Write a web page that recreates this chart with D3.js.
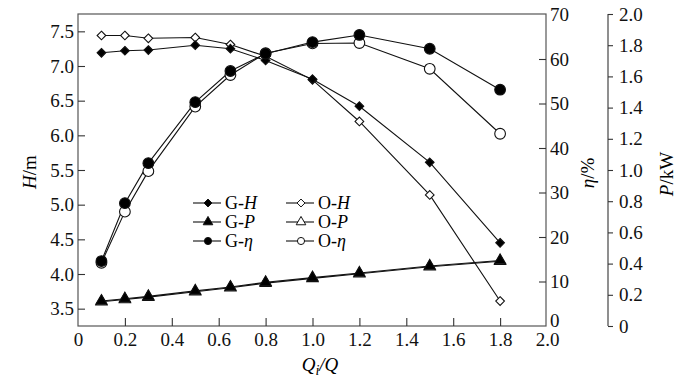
<!DOCTYPE html>
<html><head><meta charset="utf-8">
<script src="https://cdn.jsdelivr.net/npm/d3@7"></script>
<style>
body{margin:0;background:#fff;}
svg{display:block;font-family:"Liberation Serif",serif;}
</style></head>
<body><svg id="c" width="692" height="389"></svg>
<script>
const flow = [0.1, 0.2, 0.3, 0.5, 0.65, 0.8, 1.0, 1.2, 1.5, 1.8];
const gH = [7.19, 7.22, 7.23, 7.30, 7.25, 7.08, 6.81, 6.42, 5.61, 4.45];
const oH = [7.44, 7.44, 7.40, 7.41, 7.31, 7.14, 6.80, 6.20, 5.14, 3.61];
const gEta = [14.6, 27.6, 36.6, 50.3, 57.3, 61.2, 63.8, 65.4, 62.3, 53.1];
const oEta = [14.2, 25.7, 34.8, 49.3, 56.4, 61.3, 63.5, 63.6, 57.8, 43.2];
const gP = [0.16, 0.175, 0.19, 0.225, 0.25, 0.28, 0.31, 0.34, 0.385, 0.42];
const oP = [0.155, 0.17, 0.185, 0.22, 0.245, 0.275, 0.305, 0.335, 0.38, 0.415];
const xTicks = [0, 0.2, 0.4, 0.6, 0.8, 1.0, 1.2, 1.4, 1.6, 1.8, 2.0];
const hTicks = [3.5, 4.0, 4.5, 5.0, 5.5, 6.0, 6.5, 7.0, 7.5];
const etaTicks = [0, 10, 20, 30, 40, 50, 60, 70];
const pTicks = [0, 0.2, 0.4, 0.6, 0.8, 1.0, 1.2, 1.4, 1.6, 1.8, 2.0];

const L = 78, R = 546, T = 14, B = 326, PX = 608;
const FONT = "'Liberation Serif',serif";
const svg = d3.select("#c");
const x = d3.scaleLinear().domain([0, 2]).range([L, R + 1]);
const yH = d3.scaleLinear().domain([3.25, 7.75]).range([B, T]);
const yE = d3.scaleLinear().domain([0, 70]).range([B, T + 0.5]);
const yP = d3.scaleLinear().domain([0, 2]).range([B, T]);
const fmt1 = d => d === 0 ? "0" : d.toFixed(1);
const axisColor = "#333";

svg.append("rect").attr("x", L).attr("y", T).attr("width", R - L).attr("height", B - T)
  .attr("fill", "none").attr("stroke", "#555").attr("stroke-width", 1.2);

function styleAxis(g) {
  g.select(".domain").remove();
  g.selectAll("line").attr("stroke", axisColor).attr("stroke-width", 1.1);
  g.selectAll("text").attr("fill", "#111").style("font-size", "19px").style("font-family", FONT);
}
svg.append("g").attr("transform", `translate(0,${B})`)
  .call(d3.axisBottom(x).tickValues(xTicks).tickFormat(fmt1).tickSizeInner(-8).tickSizeOuter(0).tickPadding(11))
  .call(styleAxis)
  .call(g => g.selectAll(".tick").filter(d => d === 0 || d === 2).select("line").remove())
  .call(g => g.selectAll("text").attr("dy", "0.75em").attr("y", 6));
svg.append("g").attr("transform", `translate(${L},0)`)
  .call(d3.axisLeft(yH).tickValues(hTicks).tickFormat(d => d.toFixed(1)).tickSizeInner(-7).tickSizeOuter(0).tickPadding(5))
  .call(styleAxis)
  .call(g => g.selectAll("text").attr("x", -4));
svg.append("g").attr("transform", `translate(${R},0)`)
  .call(d3.axisRight(yE).tickValues(etaTicks).tickSizeInner(-7).tickSizeOuter(0).tickPadding(5))
  .call(styleAxis)
  .call(g => g.selectAll(".tick").filter(d => d === 0 || d === 70).select("line").remove())
  .call(g => g.selectAll("text").attr("x", 4))
  .call(g => g.selectAll(".tick").filter(d => d === 0).select("text").attr("dy", "0.05em"));
const pg = svg.append("g").attr("transform", `translate(${PX},0)`)
  .call(d3.axisRight(yP).tickValues(pTicks).tickFormat(fmt1).tickSizeInner(5).tickSizeOuter(0).tickPadding(6))
  .call(styleAxis);
pg.append("line").attr("x1", 0).attr("x2", 0).attr("y1", yP(0)).attr("y2", yP(2))
  .attr("stroke", axisColor).attr("stroke-width", 1.1);

svg.append("text").attr("transform", "translate(36,172) rotate(-90)").attr("text-anchor", "middle")
  .style("font-size", "19px").html('<tspan font-style="italic">H</tspan>/m');
svg.append("text").attr("transform", "translate(594,173) rotate(-90)").attr("text-anchor", "middle")
  .style("font-size", "19px").html('<tspan font-style="italic">η</tspan>/%');
svg.append("text").attr("transform", "translate(673,174) rotate(-90)").attr("text-anchor", "middle")
  .style("font-size", "19px").html('<tspan font-style="italic">P</tspan>/kW');
svg.append("text").attr("x", 320).attr("y", 371).attr("text-anchor", "middle")
  .style("font-size", "19px").style("font-style", "italic")
  .html('Q<tspan dy="4" font-size="14px">i</tspan><tspan dy="-4">/Q</tspan>');

const series = [
  {name: "O-H", vals: oH, y: yH, sym: d3.symbolDiamond2, size: 48, fill: "#fff"},
  {name: "G-H", vals: gH, y: yH, sym: d3.symbolDiamond2, size: 48, fill: "#000"},
  {name: "O-P", vals: oP, y: yP, sym: d3.symbolTriangle, size: 55, fill: "#fff"},
  {name: "G-P", vals: gP, y: yP, sym: d3.symbolTriangle, size: 55, fill: "#000"},
  {name: "O-η", vals: oEta, y: yE, sym: d3.symbolCircle, size: 90, fill: "#fff"},
  {name: "G-η", vals: gEta, y: yE, sym: d3.symbolCircle, size: 90, fill: "#000"}
];
const line = (ys) => d3.line().x((d, i) => x(flow[i])).y(d => ys(d));
series.forEach(s => {
  svg.append("path").datum(s.vals).attr("d", line(s.y)).attr("fill", "none")
    .attr("stroke", "#111").attr("stroke-width", 1.1);
});
series.forEach(s => {
  svg.append("g").selectAll("path").data(s.vals).join("path")
    .attr("transform", (d, i) => `translate(${x(flow[i])},${s.y(d)})`)
    .attr("d", d3.symbol().type(s.sym).size(s.size))
    .attr("fill", s.fill).attr("stroke", "#111").attr("stroke-width", 1.1);
});

const legend = [
  {sym: d3.symbolDiamond2, col: 0, row: 0, fill: "#000", lab: ["G-", "H"]},
  {sym: d3.symbolTriangle, col: 0, row: 1, fill: "#000", lab: ["G-", "P"]},
  {sym: d3.symbolCircle, col: 0, row: 2, fill: "#000", lab: ["G-", "η"]},
  {sym: d3.symbolDiamond2, col: 1, row: 0, fill: "#fff", lab: ["O-", "H"]},
  {sym: d3.symbolTriangle, col: 1, row: 1, fill: "#fff", lab: ["O-", "P"]},
  {sym: d3.symbolCircle, col: 1, row: 2, fill: "#fff", lab: ["O-", "η"]}
];
const lg = svg.append("g");
legend.forEach(e => {
  const x0 = e.col === 0 ? 193 : 286, yy = 203 + e.row * 19;
  lg.append("line").attr("x1", x0).attr("x2", x0 + 28).attr("y1", yy).attr("y2", yy)
    .attr("stroke", "#111").attr("stroke-width", 1.1);
  lg.append("path").attr("transform", `translate(${x0 + 15},${yy})`)
    .attr("d", d3.symbol().type(e.sym).size(40)).attr("fill", e.fill)
    .attr("stroke", "#111").attr("stroke-width", 1);
  lg.append("text").attr("x", x0 + 32).attr("y", yy + 6).style("font-size", "18px")
    .html(`${e.lab[0]}<tspan font-style="italic">${e.lab[1]}</tspan>`);
});
</script></body></html>
